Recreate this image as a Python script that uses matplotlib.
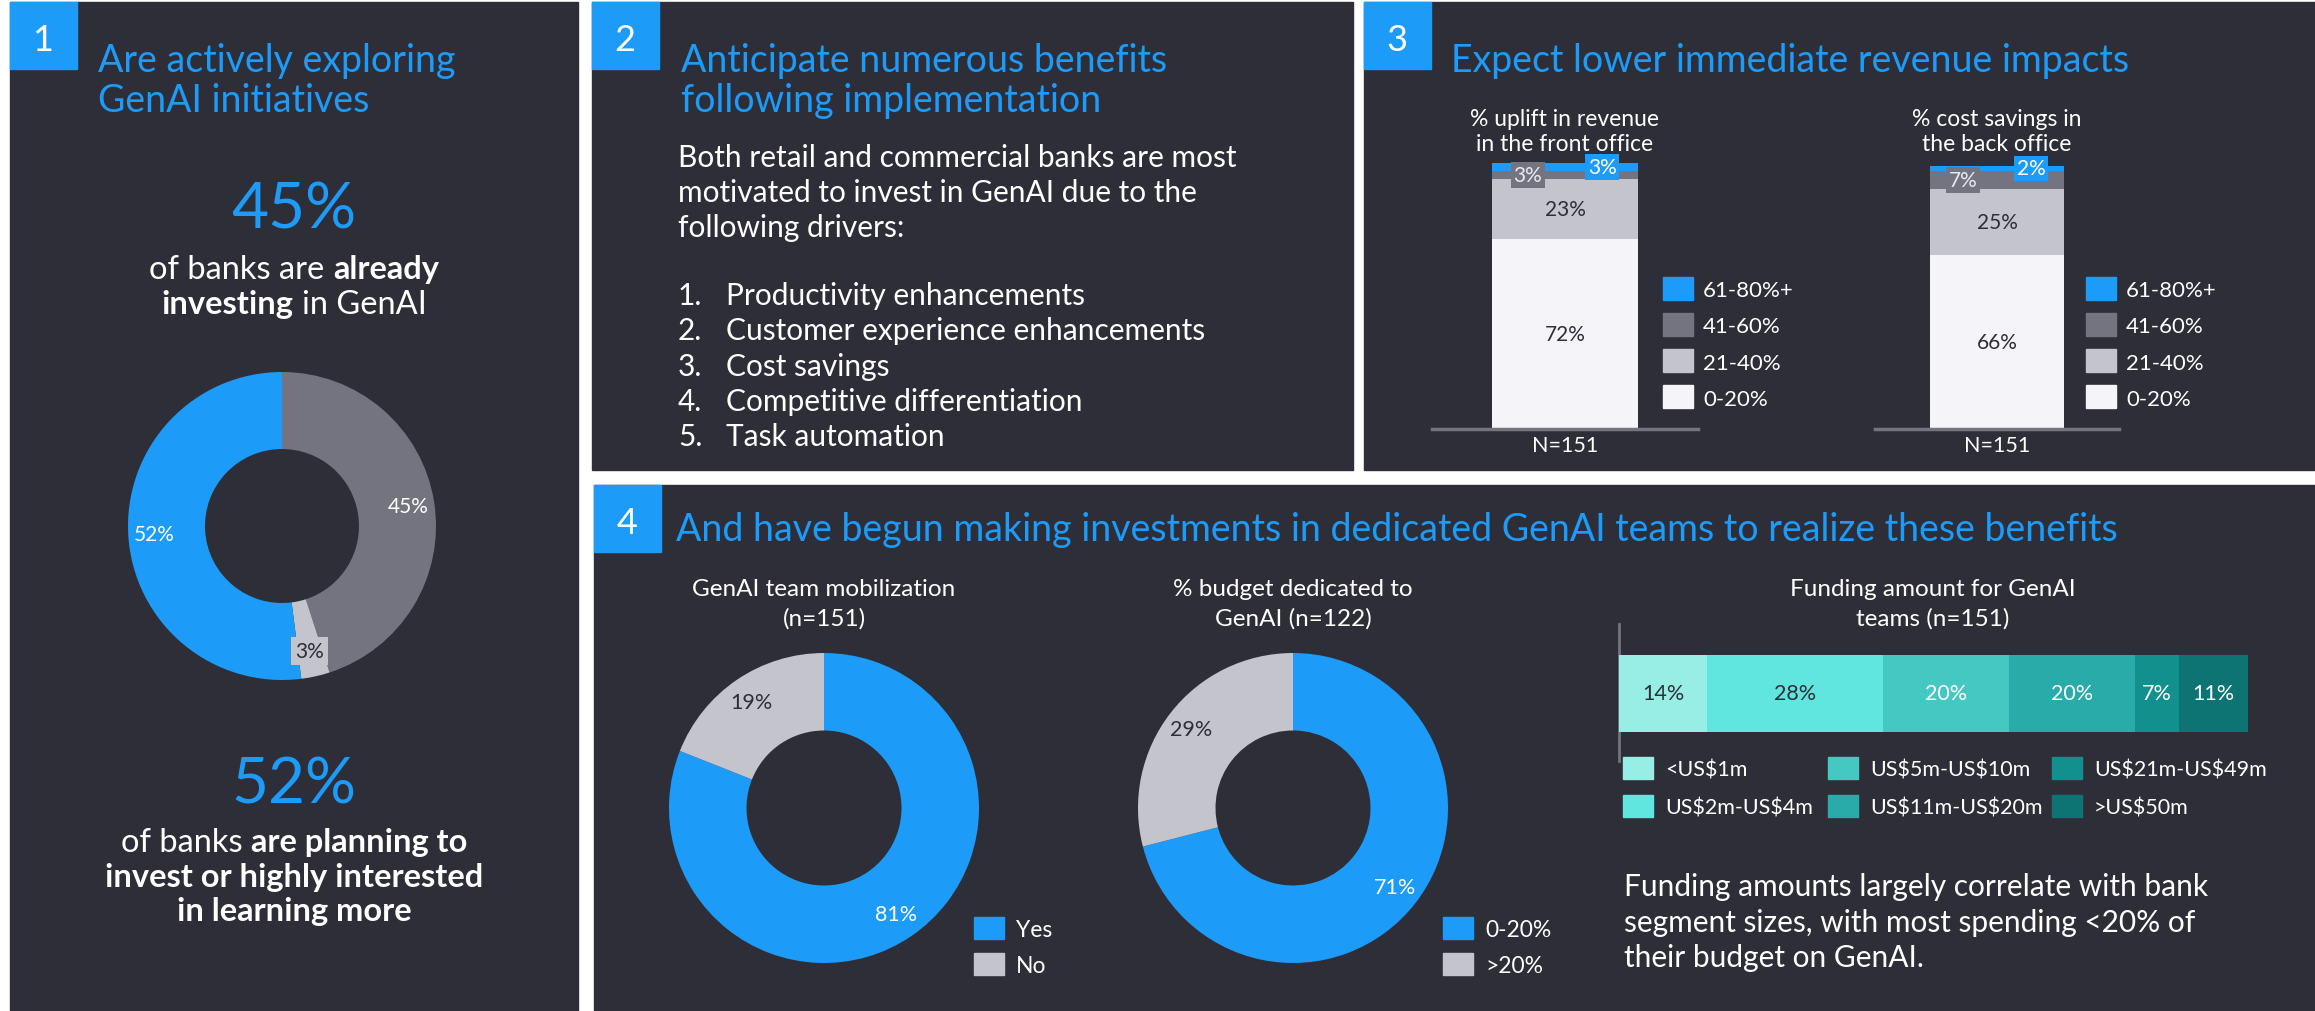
import matplotlib
matplotlib.use('Agg')
import matplotlib.pyplot as plt
from matplotlib.patches import Rectangle

plt.rcParams['font.family'] = ['Lato', 'DejaVu Sans']
plt.rcParams['text.parse_math'] = False

# ---- data ----
p1_labels = ['Already investing', 'Not interested', 'Planning / interested']
p1_values = [45, 3, 52]

drivers = ['Productivity enhancements', 'Customer experience enhancements',
           'Cost savings', 'Competitive differentiation', 'Task automation']

bands = ['0-20%', '21-40%', '41-60%', '61-80%+']
front_office = [72, 23, 3, 3]
back_office = [66, 25, 7, 2]

mobil_labels = ['Yes', 'No']
mobil_values = [81, 19]
budget_labels = ['0-20%', '>20%']
budget_values = [71, 29]

fund_labels = ['<US$1m', 'US$2m-US$4m', 'US$5m-US$10m',
               'US$11m-US$20m', 'US$21m-US$49m', '>US$50m']
fund_values = [14, 28, 20, 20, 7, 11]

# ---- style ----
BG = '#2e2e38'
BLUE = '#1c9bf8'
GRAY = '#747480'
LIGHT = '#c4c4cd'
PALE = '#f5f5f9'
WHITE = '#ffffff'
band_colors = [PALE, LIGHT, GRAY, BLUE]
fund_colors = ['#98eee4', '#60e6df', '#45c8c1', '#28aba9', '#12908d', '#0e7473']

TITLE = 27
BODY = 21.5

W, H = 2315, 1012
fig = plt.figure(figsize=(W / 100, H / 100), dpi=100, facecolor='white')
ax0 = fig.add_axes([0, 0, 1, 1])
ax0.set_xlim(0, W)
ax0.set_ylim(H, 0)
ax0.axis('off')
rend = fig.canvas.get_renderer()


def px_axes(x0, y0, x1, y1):
    return fig.add_axes([x0 / W, 1 - y1 / H, (x1 - x0) / W, (y1 - y0) / H])


def txt(x, y, s, size, color=WHITE, ha='left', weight='normal', **kw):
    return ax0.text(x, y, s, fontsize=size, color=color, ha=ha, va='center_baseline',
                    fontweight=weight, **kw)


def mixed(xc, y, parts, size, color=WHITE):
    # parts: list of (text, weight); drawn as one centred line
    a = ax0.text(0, 0, 'x x', fontsize=size)
    b = ax0.text(0, 0, 'xx', fontsize=size)
    sp = a.get_window_extent(rend).width - b.get_window_extent(rend).width
    a.remove()
    b.remove()
    items = [txt(0, y, s, size, color, weight=w) for s, w in parts]
    widths = [t.get_window_extent(rend).width for t in items]
    x = xc - (sum(widths) + sp * (len(items) - 1)) / 2
    for t, w in zip(items, widths):
        t.set_x(x)
        x += w + sp


def panel(x0, y0, x1, y1, num, bx, by):
    ax0.add_patch(Rectangle((x0, y0), x1 - x0, y1 - y0, color=BG, zorder=0))
    ax0.add_patch(Rectangle((bx, by), 67, 67, color=BLUE, zorder=1))
    txt(bx + 33, by + 34, num, 26, ha='center')


def donut(cx, cy, r, values, colors):
    ax = px_axes(cx - r, cy - r, cx + r, cy + r)
    wedges, _, autotexts = ax.pie(values, colors=colors, startangle=90, counterclock=False,
                                  radius=1, wedgeprops=dict(width=0.5, linewidth=0),
                                  autopct='%1.0f%%', pctdistance=0.83)
    ax.set_xlim(-1, 1)
    ax.set_ylim(-1, 1)
    ax.set_aspect('equal')
    ax.axis('off')
    for t, v in zip(autotexts, values):
        t.set_text(f'{v}%')
    return autotexts


# ---- panel 1 ----
panel(10, 3, 578, 1012, '1', 10, 3)
txt(98, 57, 'Are actively exploring', TITLE, BLUE)
txt(98, 97, 'GenAI initiatives', TITLE, BLUE)
txt(294, 205, f'{p1_values[0]}%', 46, BLUE, ha='center')
mixed(294, 267, [('of banks are', 'normal'), ('already', 'bold')], 23.5)
mixed(294, 302, [('investing', 'bold'), ('in GenAI', 'normal')], 23.5)
lbls = donut(282, 527, 154, p1_values, [GRAY, LIGHT, BLUE])
for t, c, bg in zip(lbls, [WHITE, BG, WHITE], [None, LIGHT, None]):
    t.set_color(c)
    t.set_fontsize(15)
    if bg:
        t.set_bbox(dict(facecolor=bg, edgecolor='none', pad=3))
txt(294, 780, f'{p1_values[2]}%', 46, BLUE, ha='center')
mixed(294, 840, [('of banks', 'normal'), ('are planning to', 'bold')], 23.5)
mixed(294, 875, [('invest or highly interested', 'bold')], 23.5)
mixed(294, 909, [('in learning more', 'bold')], 23.5)

# ---- panel 2 ----
panel(592, 3, 1353, 471, '2', 592, 3)
txt(681, 57, 'Anticipate numerous benefits', TITLE, BLUE)
txt(681, 97, 'following implementation', TITLE, BLUE)
body = ['Both retail and commercial banks are most',
        'motivated to invest in GenAI due to the', 'following drivers:']
for i, s in enumerate(body):
    txt(678, 155 + 35 * i, s, BODY)
for i, s in enumerate(drivers):
    txt(678, 293 + 35.5 * i, f'{i + 1}.', BODY)
    txt(726, 293 + 35.5 * i, s, BODY)

# ---- panel 3 ----
panel(1364, 3, 2315, 471, '3', 1364, 3)
txt(1451, 57, 'Expect lower immediate revenue impacts', TITLE, BLUE)


def stacked(x0, x1, values, title, lx):
    ax = px_axes(x0, 164, x1, 430)
    ax.set_facecolor('none')
    bottom = 0
    for v, c in zip(values, band_colors):
        ax.bar(0, v, bottom=bottom, width=1.1, color=c, linewidth=0)
        mid = bottom + v / 2
        if v >= 10:
            ax.text(0, mid, f'{v}%', ha='center', va='center', fontsize=15, color=BG)
        else:
            dx = -0.28 if c == GRAY else 0.28
            ax.text(dx, mid, f'{v}%', ha='center', va='center', fontsize=15,
                    color='#e8e8ee' if c == GRAY else WHITE,
                    bbox=dict(facecolor=c, edgecolor='none', pad=2))
        bottom += v
    ax.set_xlim(-1, 1)
    ax.set_ylim(0, 101)
    for s in ['top', 'left', 'right']:
        ax.spines[s].set_visible(False)
    ax.spines['bottom'].set_color(GRAY)
    ax.spines['bottom'].set_linewidth(2.5)
    ax.set_yticks([])
    ax.set_xticks([0])
    ax.set_xticklabels(['N=151'], fontsize=15.5, color=WHITE)
    ax.tick_params(axis='x', length=0, pad=4)
    cx = (x0 + x1) / 2
    txt(cx, 117, title[0], 16.5, ha='center')
    txt(cx, 142, title[1], 16.5, ha='center')
    for i, (b, c) in enumerate(zip(bands[::-1], band_colors[::-1])):
        y = 289 + 36.3 * i
        ax0.add_patch(Rectangle((lx, y - 11.5), 30, 23, color=c))
        txt(lx + 40, y, b, 16)


stacked(1432, 1698, front_office, ['% uplift in revenue', 'in the front office'], 1663)
stacked(1875, 2119, back_office, ['% cost savings in', 'the back office'], 2086)

# ---- panel 4 ----
panel(594, 486, 2315, 1012, '4', 594, 486)
txt(676, 527, 'And have begun making investments in dedicated GenAI teams to realize these benefits',
    TITLE, BLUE)


def donut4(cx, values, labels, title):
    lb = donut(cx, 809, 155, values, [BLUE, LIGHT])
    lb[0].set_color(WHITE)
    lb[1].set_color(BG)
    for t in lb:
        t.set_fontsize(15.5)
    txt(cx, 588, title[0], 17.5, ha='center')
    txt(cx, 617, title[1], 17.5, ha='center')
    lx = cx + 150
    for i, (lab, c) in enumerate(zip(labels, [BLUE, LIGHT])):
        y = 929 + 36 * i
        ax0.add_patch(Rectangle((lx, y - 11), 30, 22, color=c))
        txt(lx + 42, y, lab, 16.5)


donut4(824, mobil_values, mobil_labels, ['GenAI team mobilization', '(n=151)'])
donut4(1293, budget_values, budget_labels, ['% budget dedicated to', 'GenAI (n=122)'])

# funding bar
txt(1933, 588, 'Funding amount for GenAI', 17.5, ha='center')
txt(1933, 617, 'teams (n=151)', 17.5, ha='center')
axf = px_axes(1619, 656, 2248, 733)
left = 0
for i, (v, c) in enumerate(zip(fund_values, fund_colors)):
    axf.barh(0, v, left=left, height=1, color=c, linewidth=0)
    axf.text(left + v / 2, 0, f'{v}%', ha='center', va='center', fontsize=15.5,
             color=BG if i < 2 else WHITE)
    left += v
axf.set_xlim(0, sum(fund_values))
axf.set_ylim(-0.5, 0.5)
axf.axis('off')
ax0.plot([1619, 1619], [625, 762], color=GRAY, lw=2)
for i, (lab, c) in enumerate(zip(fund_labels, fund_colors)):
    col, row = divmod(i, 2)
    x = [1623, 1828, 2052][col]
    y = 769 + 38 * row
    ax0.add_patch(Rectangle((x, y - 11), 30, 22, color=c))
    txt(x + 42, y, lab, 15.5)

note = ['Funding amounts largely correlate with bank',
        'segment sizes, with most spending <20% of',
        'their budget on GenAI.']
for i, s in enumerate(note):
    txt(1624, 885 + 35.5 * i, s, BODY)

fig.savefig('out.png', dpi=100, facecolor='white')
